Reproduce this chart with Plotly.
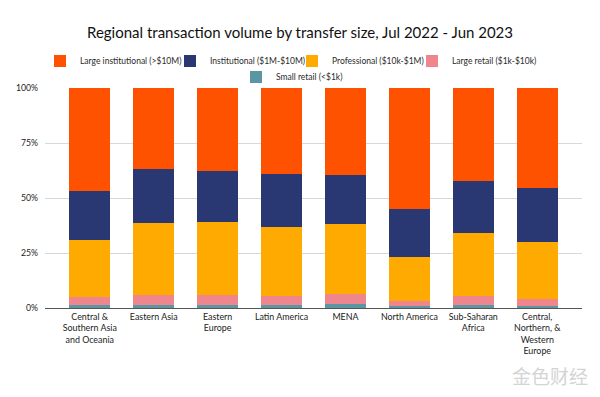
import plotly.graph_objects as go

regions = [
    "Central &<br>Southern Asia<br>and Oceania",
    "Eastern Asia",
    "Eastern<br>Europe",
    "Latin America",
    "MENA",
    "North America",
    "Sub-Saharan<br>Africa",
    "Central,<br>Northern, &<br>Western<br>Europe",
]

small_retail = [1.4, 1.5, 1.5, 1.4, 1.8, 0.9, 1.5, 1.0]
large_retail = [3.4, 4.2, 4.2, 4.2, 4.7, 2.3, 3.8, 3.2]
professional = [26.2, 32.9, 33.4, 31.4, 31.7, 20.0, 28.6, 25.8]
institutional = [22.0, 24.6, 23.4, 23.9, 22.2, 21.8, 24.0, 24.4]
large_institutional = [47.0, 36.8, 37.5, 39.1, 39.6, 55.0, 42.1, 45.6]

series_names = [
    "Large institutional (>$10M)",
    "Institutional ($1M-$10M)",
    "Professional ($10k-$1M)",
    "Large retail ($1k-$10k)",
    "Small retail (<$1k)",
]
y_ticks = [0, 25, 50, 75, 100]
y_tick_labels = ["0%", "25%", "50%", "75%", "100%"]

colors = {
    series_names[0]: "#FF5200",
    series_names[1]: "#293872",
    series_names[2]: "#FFAA00",
    series_names[3]: "#F0868D",
    series_names[4]: "#5B97A2",
}

# legend layout: (legend id, text-start x px, row center y px)
legend_pos = {
    series_names[0]: ("legend", 80, 61),
    series_names[1]: ("legend2", 210, 61),
    series_names[2]: ("legend3", 332, 61),
    series_names[3]: ("legend4", 452, 61),
    series_names[4]: ("legend5", 276, 77),
}

W, H = 600, 397
FONT = "Lato"
fig = go.Figure()

stack = [
    (series_names[4], small_retail),
    (series_names[3], large_retail),
    (series_names[2], professional),
    (series_names[1], institutional),
    (series_names[0], large_institutional),
]
for name, vals in stack:
    fig.add_trace(go.Bar(
        x=list(range(len(regions))),
        y=vals,
        name=name,
        marker=dict(color=colors[name], line=dict(width=0)),
        legend=legend_pos[name][0],
        hoverinfo="skip",
    ))

TEXT_OFFSET = 40
legends = {}
for name, (lid, tx, ty) in legend_pos.items():
    legends[lid] = dict(
        orientation="h", xanchor="left", xref="container", yref="container",
        x=(tx - TEXT_OFFSET) / W, y=1 - ty / H, yanchor="middle",
        font=dict(family=FONT, size=8.5, color="#2a2a2a"),
        itemwidth=30, bgcolor="rgba(0,0,0,0)", borderwidth=0,
        itemclick=False, itemdoubleclick=False,
    )

fig.update_layout(
    barmode="stack",
    bargap=0.36,
    width=W,
    height=H,
    paper_bgcolor="white",
    plot_bgcolor="white",
    margin=dict(l=45, r=18, t=88, b=89, autoexpand=False),
    font=dict(family=FONT, color="#333333", size=8),
    title=dict(
        text="Regional transaction volume by transfer size, Jul 2022 - Jun 2023",
        x=0.5, xanchor="center", xref="container",
        y=1 - 33 / H, yanchor="middle", yref="container",
        font=dict(family=FONT, size=15, color="#111111"),
    ),
    xaxis=dict(
        tickmode="array",
        tickvals=list(range(len(regions))),
        ticktext=regions,
        range=[-0.7, len(regions) - 0.3],
        showgrid=False,
        showline=True,
        linecolor="#555555",
        linewidth=1,
        ticks="",
        automargin=False,
        tickfont=dict(family=FONT, size=8.9, color="#222222"),
        fixedrange=True,
    ),
    yaxis=dict(
        range=[0, 100],
        tickvals=y_ticks,
        ticktext=y_tick_labels,
        showgrid=True,
        gridcolor="#d8d8d8",
        gridwidth=1,
        zeroline=False,
        showline=False,
        ticks="",
        automargin=False,
        ticklabelstandoff=6,
        tickfont=dict(family=FONT, size=8.7, color="#222222"),
        fixedrange=True,
    ),
    showlegend=True,
    **legends,
)

fig.add_annotation(
    text="金色财经", xref="paper", yref="paper",
    x=1.015, y=-0.305, xanchor="right", yanchor="middle",
    showarrow=False,
    font=dict(family="Noto Sans CJK SC", size=19, color="#d4d4d4"),
)

fig.write_html(
    "out.html",
    config={"displayModeBar": False},
    post_script="document.body.style.margin='0';",
)
